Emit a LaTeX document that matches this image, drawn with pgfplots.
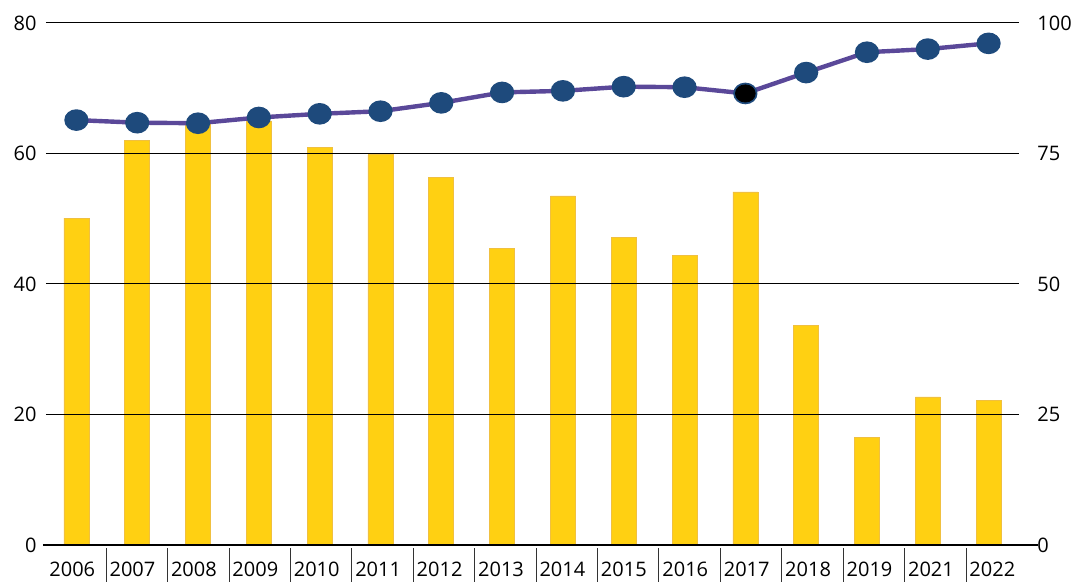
\documentclass[border=0pt]{standalone}
\usepackage{fontspec}
\setmainfont{Open Sans}
\usepackage{pgfplots}
\pgfplotsset{compat=1.18}

\definecolor{barfill}{HTML}{FFD012}
\definecolor{baredge}{HTML}{F0C040}
\definecolor{linepurple}{HTML}{5A4899}
\definecolor{markblue}{HTML}{1E4A7C}

\pgfplotsset{
  common/.style={
    at={(0,0)}, anchor=south west, scale only axis,
    width=486.5pt, height=261pt,
    xmin=-0.5, xmax=15.5,
    /pgf/number format/assume math mode=true,
    tick label style={font=\fontsize{10}{12}\selectfont},
  },
}

\begin{document}
\begin{tikzpicture}
\path[use as bounding box] (-23pt,-19pt) rectangle (513pt,272.5pt);

% bars, left axis
\begin{axis}[
  common,
  ymin=0, ymax=80,
  ytick={0,20,40,60,80},
  ymajorgrids, grid style={black, line width=0.5pt},
  axis on top,
  axis x line*=bottom, axis y line*=left,
  x axis line style={-, black, line width=0.6pt, shorten <=-1.5pt, shorten >=-9.5pt},
  y axis line style={draw=none},
  ytick style={draw=none},
  tick align=outside,
  major tick length=0pt,
  xtick={-0.5,0.49,1.50,2.51,3.52,4.53,5.54,6.55,7.56,8.57,9.58,10.59,11.60,12.61,13.62,14.63},
  xticklabels={2006,2007,2008,2009,2010,2011,2012,2013,2014,2015,2016,2017,2018,2019,2021,2022},
  minor xtick={0.49,1.50,2.51,3.52,4.53,5.54,6.55,7.56,8.57,9.58,10.59,11.60,12.61,13.62,14.63},
  minor tick length=17pt,
  minor tick style={black!80, line width=0.5pt, yshift=-1.5pt},
  xticklabel style={anchor=north west, inner sep=0pt, xshift=1.5pt, yshift=-8.5pt},
  yticklabel style={anchor=east, inner sep=0pt, xshift=-4.5pt},
]
\addplot[ybar, bar width=12.5pt, fill=barfill, draw=baredge, line width=0.3pt]
  coordinates {(0,50.1) (1,62.0) (2,64.5) (3,65.0) (4,60.9) (5,59.8) (6,56.3) (7,45.5)
               (8,53.5) (9,47.2) (10,44.4) (11,54.1) (12,33.6) (13,16.5) (14,22.7) (15,22.2)};
\end{axis}

% line, right axis
\begin{axis}[
  common,
  ymin=0, ymax=100,
  ytick={0,25,50,75,100},
  axis x line=none, axis y line*=right,
  y axis line style={draw=none},
  ytick style={draw=none},
  major tick length=0pt,
  yticklabel style={anchor=west, inner sep=0pt, xshift=9pt},
]
\addplot[linepurple, line width=2.2pt, mark=*,
  mark options={markblue, draw=markblue, xscale=1.15}, mark size=4.3pt]
  coordinates {(0,81.4) (1,80.9) (2,80.8) (3,81.9) (4,82.6) (5,83.1) (6,84.7) (7,86.7)
               (8,87.0) (9,87.8) (10,87.7) (11,86.5) (12,90.5) (13,94.4) (14,95.0) (15,96.1)};
\addplot[only marks, mark=*, mark options={black, fill=black, xscale=1.15}, mark size=4.3pt]
  coordinates {(11,86.5)};
\end{axis}
\end{tikzpicture}
\end{document}
